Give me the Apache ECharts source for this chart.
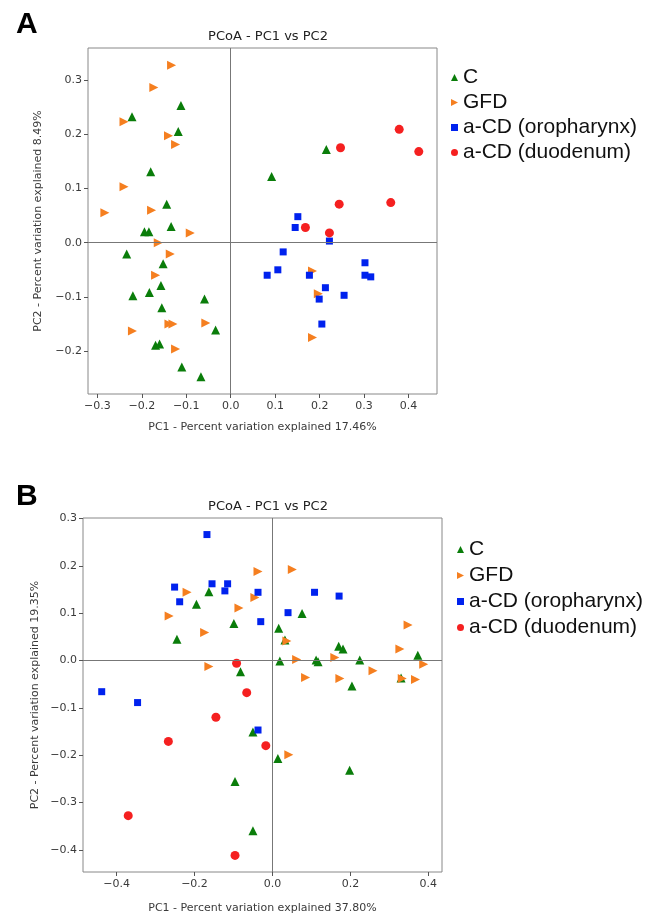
<!DOCTYPE html>
<html>
<head>
<meta charset="utf-8">
<script src="https://cdn.jsdelivr.net/npm/echarts@6/dist/echarts.min.js"></script>
<style>
  html, body { margin: 0; padding: 0; background: #fff; }
  #chart { width: 649px; height: 915px; }
</style>
</head>
<body>
<div id="chart"></div>
<script>
// panel A points [PC1, PC2]
var A_C = [[-0.222,0.232],[-0.112,0.253],[-0.118,0.205],[-0.180,0.131],[-0.144,0.071],
  [-0.194,0.020],[-0.184,0.020],[-0.134,0.030],[-0.234,-0.021],[-0.152,-0.039],[-0.157,-0.079],
  [-0.220,-0.098],[-0.183,-0.092],[-0.059,-0.104],[-0.155,-0.120],[-0.034,-0.161],
  [-0.169,-0.189],[-0.160,-0.187],[-0.110,-0.229],[-0.067,-0.247],[0.215,0.172],[0.092,0.122]];
var A_GFD = [[-0.133,0.327],[-0.173,0.286],[-0.240,0.223],[-0.140,0.197],[-0.124,0.181],
  [-0.240,0.103],[-0.283,0.055],[-0.178,0.060],[-0.091,0.018],[-0.163,0.0],[-0.136,-0.021],
  [-0.169,-0.060],[-0.139,-0.150],[-0.130,-0.150],[-0.056,-0.148],[-0.221,-0.163],
  [-0.124,-0.196],[0.184,-0.052],[0.197,-0.094],[0.184,-0.175]];
var A_ORO = [[0.151,0.048],[0.145,0.028],[0.222,0.003],[0.118,-0.017],[0.302,-0.037],
  [0.106,-0.050],[0.082,-0.060],[0.177,-0.060],[0.302,-0.060],[0.315,-0.063],[0.213,-0.083],
  [0.255,-0.097],[0.199,-0.104],[0.205,-0.150]];
var A_DUO = [[0.379,0.209],[0.423,0.168],[0.247,0.175],[0.244,0.071],[0.360,0.074],
  [0.168,0.028],[0.222,0.018]];

// panel B points [PC1, PC2]
var B_C = [[-0.163,0.145],[-0.195,0.119],[-0.245,0.045],[-0.099,0.078],[0.076,0.099],
  [0.016,0.068],[0.032,0.043],[0.170,0.030],[0.181,0.024],[0.373,0.011],[0.019,-0.001],
  [0.112,0.001],[0.117,-0.003],[0.224,0.001],[-0.082,-0.024],[0.330,-0.037],[0.204,-0.054],
  [-0.050,-0.151],[0.014,-0.207],[0.198,-0.232],[-0.096,-0.256],[-0.050,-0.360]];
var B_GFD = [[-0.219,0.144],[-0.265,0.094],[-0.174,0.059],[-0.163,-0.013],[-0.086,0.111],
  [-0.037,0.188],[0.051,0.192],[-0.045,0.133],[0.348,0.075],[0.037,0.041],[0.327,0.024],
  [0.062,0.002],[0.160,0.006],[0.388,-0.008],[0.258,-0.022],[0.085,-0.036],[0.173,-0.038],
  [0.367,-0.040],[0.333,-0.038],[0.042,-0.199]];
var B_ORO = [[-0.168,0.266],[-0.251,0.155],[-0.238,0.124],[-0.155,0.162],[-0.115,0.162],
  [-0.122,0.147],[-0.037,0.144],[0.108,0.144],[0.171,0.136],[0.040,0.101],[-0.030,0.082],
  [-0.438,-0.066],[-0.346,-0.089],[-0.037,-0.147]];
var B_DUO = [[-0.092,-0.006],[-0.066,-0.068],[-0.145,-0.120],[-0.267,-0.171],[-0.017,-0.180],
  [-0.370,-0.328],[-0.096,-0.412]];

var groups = ['C', 'GFD', 'a-CD (oropharynx)', 'a-CD (duodenum)'];
var A_xTicks = [-0.3,-0.2,-0.1,0.0,0.1,0.2,0.3,0.4];
var A_yTicks = [-0.2,-0.1,0.0,0.1,0.2,0.3];
var B_xTicks = [-0.4,-0.2,0.0,0.2,0.4];
var B_yTicks = [-0.4,-0.3,-0.2,-0.1,0.0,0.1,0.2,0.3];

var colors = ['#0a7d0a', '#f57f20', '#0022ee', '#f52020'];
var symbols = ['triangle', 'path://M0,0 L10,5 L0,10 Z', 'rect', 'circle'];
var sizes = [9, 9, 7, 9];

function fmt(v) {
    return (v < 0 ? '\u2212' : '') + Math.abs(v).toFixed(1);
}

function xAxisOf(gi, min, max, ticks, label, gap) {
    return {
        type: 'value', gridIndex: gi, min: min, max: max,
        splitLine: { show: false },
        axisLine: { show: false, onZero: false },
        axisTick: { show: true, length: 4, lineStyle: { color: '#555' }, customValues: ticks },
        axisLabel: { customValues: ticks, formatter: fmt, color: '#3a3a3a', fontSize: 11,
            fontFamily: 'DejaVu Sans', margin: 7 },
        name: label, nameLocation: 'middle', nameGap: gap, nameMoveOverlap: false,
        nameTextStyle: { color: '#3a3a3a', fontSize: 11, fontFamily: 'DejaVu Sans' }
    };
}
function yAxisOf(gi, min, max, ticks, label, gap) {
    return {
        type: 'value', gridIndex: gi, min: min, max: max,
        splitLine: { show: false },
        axisLine: { show: false, onZero: false },
        axisTick: { show: true, length: 4, lineStyle: { color: '#555' }, customValues: ticks },
        axisLabel: { customValues: ticks, formatter: fmt, color: '#3a3a3a', fontSize: 11,
            fontFamily: 'DejaVu Sans', margin: 6 },
        name: label, nameLocation: 'middle', nameGap: gap, nameRotate: 90, nameMoveOverlap: false,
        nameTextStyle: { color: '#3a3a3a', fontSize: 11, fontFamily: 'DejaVu Sans' }
    };
}

function seriesOf(gi, sets) {
    var out = [{
        type: 'scatter', xAxisIndex: gi, yAxisIndex: gi, data: [], silent: true, z: 1,
        markLine: {
            silent: true, symbol: 'none', animation: false,
            label: { show: false },
            lineStyle: { color: '#777', width: 1, type: 'solid' },
            data: [{ xAxis: 0 }, { yAxis: 0 }]
        }
    }];
    sets.forEach(function (d, i) {
        out.push({
            name: groups[i], type: 'scatter', xAxisIndex: gi, yAxisIndex: gi, z: 3,
            data: d, symbol: symbols[i], symbolSize: sizes[i],
            itemStyle: { color: colors[i], opacity: 1 }
        });
    });
    return out;
}

function legendOf(left, top, gap) {
    return {
        orient: 'vertical', left: left, top: top,
        data: groups.map(function (g, i) { return { name: g, icon: symbols[i] }; }),
        itemWidth: 7, itemHeight: 7, itemGap: gap,
        textStyle: { fontSize: 21, fontFamily: 'Liberation Sans', color: '#111', lineHeight: 21 },
        selectedMode: false
    };
}

var chart = echarts.init(document.getElementById('chart'));
chart.setOption({
    animation: false,
    backgroundColor: '#fff',
    title: [
        { text: 'A', left: 11, top: 5, textStyle: { fontSize: 30, fontWeight: 'bold', fontFamily: 'Liberation Sans', color: '#000' } },
        { text: 'PCoA - PC1 vs PC2', left: 263, top: 25, textAlign: 'center',
          textStyle: { fontSize: 13, fontWeight: 'normal', fontFamily: 'DejaVu Sans', color: '#222' } },
        { text: 'B', left: 11, top: 477, textStyle: { fontSize: 30, fontWeight: 'bold', fontFamily: 'Liberation Sans', color: '#000' } },
        { text: 'PCoA - PC1 vs PC2', left: 263, top: 495, textAlign: 'center',
          textStyle: { fontSize: 13, fontWeight: 'normal', fontFamily: 'DejaVu Sans', color: '#222' } }
    ],
    legend: [legendOf(446, 62, 4), legendOf(452, 534, 5)],
    grid: [
        { left: 88, top: 48, width: 349, height: 346, show: true, borderColor: '#888', borderWidth: 1, backgroundColor: 'transparent' },
        { left: 83, top: 518, width: 359, height: 355, show: true, borderColor: '#888', borderWidth: 1, backgroundColor: 'transparent' }
    ],
    xAxis: [
        xAxisOf(0, -0.321, 0.464, A_xTicks, 'PC1 - Percent variation explained 17.46%', 28),
        xAxisOf(1, -0.486, 0.435, B_xTicks, 'PC1 - Percent variation explained 37.80%', 31)
    ],
    yAxis: [
        yAxisOf(0, -0.279, 0.359, A_yTicks, 'PC2 - Percent variation explained 8.49%', 44),
        yAxisOf(1, -0.447, 0.301, B_yTicks, 'PC2 - Percent variation explained 19.35%', 42)
    ],
    series: seriesOf(0, [A_C, A_GFD, A_ORO, A_DUO]).concat(seriesOf(1, [B_C, B_GFD, B_ORO, B_DUO]))
});
</script>
</body>
</html>
